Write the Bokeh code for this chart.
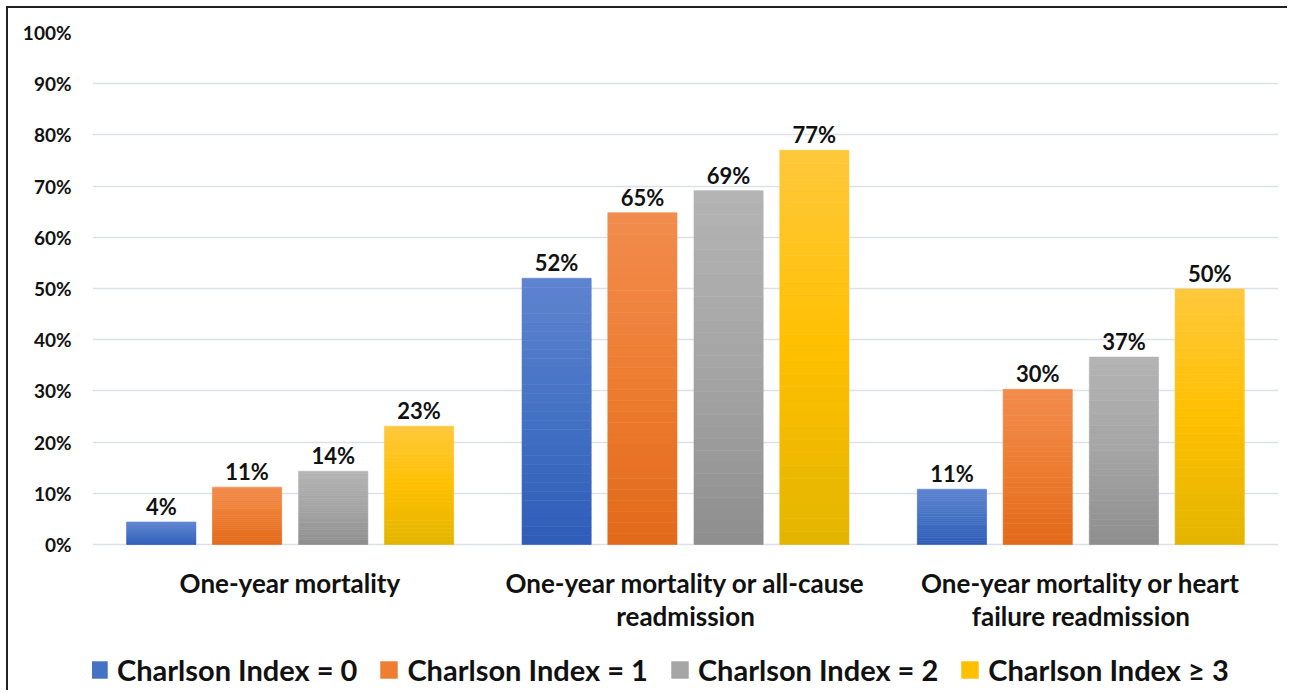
from bokeh.plotting import figure
from bokeh.models import (FactorRange, Range1d, FixedTicker, PrintfTickFormatter,
                          ColumnDataSource, Legend, LegendItem)
from bokeh.transform import dodge
from bokeh.core.properties import value
from bokeh.embed import file_html
from bokeh.resources import INLINE

categories = ["One-year mortality",
              "One-year mortality or all-cause readmission",
              "One-year mortality or heart failure readmission"]
category_labels = ["One-year mortality",
                   "One-year mortality or all-cause\nreadmission",
                   "One-year mortality or heart\nfailure readmission"]
series_names = ["Charlson Index = 0", "Charlson Index = 1",
                "Charlson Index = 2", "Charlson Index \u2265 3"]
ci0 = [4.4, 52.0, 10.8]
ci1 = [11.2, 64.8, 30.3]
ci2 = [14.3, 69.1, 36.6]
ci3 = [23.1, 77.0, 49.9]
value_labels = [["4%", "52%", "11%"], ["11%", "65%", "30%"],
                ["14%", "69%", "37%"], ["23%", "77%", "50%"]]
y_ticks = [0, 10, 20, 30, 40, 50, 60, 70, 80, 90, 100]

series_values = [ci0, ci1, ci2, ci3]
# gradient stops: (bottom, middle, top)
palettes = [("#2E5CB8", "#4472C4", "#5F84D0"),
            ("#E2691A", "#ED7D31", "#F28C4E"),
            ("#8E8E8E", "#A5A5A5", "#B4B4B4"),
            ("#E3B500", "#FFC000", "#FFC83C")]

FONT = "Lato"

# layout (pixels)
W, H = 1281, 684
LEFT, RIGHT, TOP = 84, 11, 24
PLOT_H = 512            # pixel height of the 0..100 % span
FRAME_H = H - TOP       # frame runs to the bottom, room for labels & legend
y_start = -100.0 * (FRAME_H - PLOT_H) / PLOT_H


def hex2rgb(h):
    h = h.lstrip("#")
    return tuple(int(h[i:i + 2], 16) for i in (0, 2, 4))


def mix(c1, c2, t):
    a, b = hex2rgb(c1), hex2rgb(c2)
    return "#%02x%02x%02x" % tuple(round(a[i] + (b[i] - a[i]) * t) for i in range(3))


def grad(stops, t):
    lo, mid, hi = stops
    if t < 0.5:
        return mix(lo, mid, t / 0.5)
    return mix(mid, hi, (t - 0.5) / 0.5)


p = figure(x_range=FactorRange(*categories, range_padding=0),
           y_range=Range1d(y_start, 100),
           width=W, height=H, x_axis_location=None,
           output_backend="svg", toolbar_location=None,
           min_border_left=LEFT, min_border_right=RIGHT,
           min_border_top=TOP, min_border_bottom=0)
p.styles = {"margin-left": "6px", "margin-top": "6px",
            "border-left": "2px solid #222222", "border-top": "2px solid #222222"}
p.outline_line_color = None
p.background_fill_color = "white"
p.border_fill_color = "white"

p.xgrid.grid_line_color = None
p.ygrid.ticker = FixedTicker(ticks=y_ticks)
p.ygrid.grid_line_color = "#DDE1E7"
p.ygrid.grid_line_width = 1.5
ya = p.yaxis[0]
ya.ticker = FixedTicker(ticks=y_ticks)
ya.formatter = PrintfTickFormatter(format="%d%%")
ya.axis_line_color = None
ya.major_tick_line_color = None
ya.minor_tick_line_color = None
ya.major_tick_out = 0
ya.major_tick_in = 0
ya.major_label_text_font = FONT
ya.major_label_text_font_style = "bold"
ya.major_label_text_color = "#111111"
ya.major_label_text_font_size = "19px"
ya.major_label_standoff = 21

offsets = [-0.326, -0.109, 0.109, 0.326]
bar_w = 0.175
N = 30

legend_items = []
for j, vals in enumerate(series_values):
    mid_r = None
    for k in range(N):
        src = ColumnDataSource(dict(cat=categories,
                                    bottom=[v * k / N for v in vals],
                                    top=[v * (k + 1) / N for v in vals]))
        col = grad(palettes[j], (k + 0.5) / N)
        r = p.vbar(x=dodge("cat", offsets[j], range=p.x_range), top="top", bottom="bottom",
                   width=bar_w, source=src, fill_color=col, line_color=col, line_width=0.6)
        if k == N // 2:
            mid_r = r
    lsrc = ColumnDataSource(dict(cat=categories, v=vals, lab=value_labels[j]))
    p.text(x=dodge("cat", offsets[j], range=p.x_range), y="v", text="lab", source=lsrc,
           text_align="center", text_baseline="bottom", y_offset=-2,
           text_font=value(FONT), text_font_style="bold", text_font_size="22px",
           text_color="#111111")
    legend_items.append(LegendItem(label=series_names[j], renderers=[mid_r]))

# category labels under the 0 % line
csrc = ColumnDataSource(dict(cat=categories, y=[0] * len(categories), lab=category_labels))
p.text(x="cat", y="y", text="lab", source=csrc, y_offset=22,
       text_align="center", text_baseline="top", text_line_height=1.06,
       text_font=value(FONT), text_font_style="bold", text_font_size="26px",
       text_color="#111111")

legend = Legend(items=legend_items, orientation="horizontal", location=(-4, 5),
                padding=0, margin=0, spacing=21, label_standoff=8,
                glyph_width=21, glyph_height=21,
                label_text_font=FONT, label_text_font_style="bold",
                label_text_font_size="29px", label_text_color="#111111",
                border_line_color=None, background_fill_alpha=0)
p.add_layout(legend, "center")

open("out.html", "w").write(file_html(p, INLINE))
